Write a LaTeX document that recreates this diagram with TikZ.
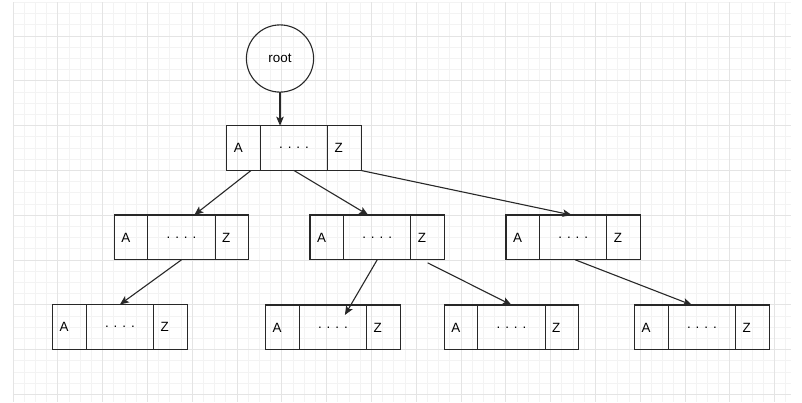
\documentclass[tikz,border=0pt]{standalone}
\usepackage{fontspec}
\setmainfont{Liberation Sans}
\usetikzlibrary{arrows.meta}
\definecolor{gminor}{RGB}{243,243,243}
\definecolor{gmajor}{RGB}{228,228,228}
\definecolor{edgec}{RGB}{40,40,40}
\tikzset{
  gridminor/.style={gminor, line width=0.8pt},
  gridmajor/.style={gmajor, line width=0.9pt},
  cellside/.style={draw=edgec, line width=1.1pt, minimum height=44.8pt, inner ysep=0pt,
     inner xsep=7pt, text width=19.6pt, align=left, anchor=north west, outer sep=0pt,
     font=\fontsize{13.4}{16}\selectfont},
  cellmid/.style={draw=edgec, line width=1.1pt, minimum height=44.8pt, minimum width=67.2pt,
     inner sep=0pt, anchor=north west, outer sep=0pt, font=\fontsize{13.4}{16}\selectfont},
  rootnode/.style={circle, draw=edgec, line width=1.1pt, minimum size=67.2pt, inner sep=0pt,
     outer sep=0pt, font=\fontsize{13.4}{16}\selectfont},
  arr/.style={draw=edgec, line width=1.1pt, -{Stealth[length=9pt,width=7.5pt,inset=2pt]}}
}
\newcommand\tribox[3]{%
  \node[cellside] (#1-a) at (#2,#3) {A};
  \node[cellmid] (#1-m) at (#1-a.north east) {. . . .};
  \node[cellside] (#1-z) at (#1-m.north east) {Z};
}
\begin{document}
\begin{tikzpicture}[x=1pt,y=-1pt]
\useasboundingbox (0,0) rectangle (802,402);
\fill[white] (0,0) rectangle (802,402);
% grid
\foreach \i in {0,...,69} {
  \pgfmathsetmacro\xx{13+11.2*\i}
  \draw[gridminor] (\xx,2.4) -- (\xx,402);
}
\foreach \k in {0,...,35} {
  \pgfmathsetmacro\yy{2.4+11.2*\k}
  \draw[gridminor] (13,\yy) -- (791,\yy);
}
\foreach \j in {0,...,17} {
  \pgfmathsetmacro\xx{13+44.8*\j}
  \draw[gridmajor] (\xx,2.4) -- (\xx,402);
}
\foreach \j in {0,...,8} {
  \pgfmathsetmacro\yy{36+44.8*\j}
  \draw[gridmajor] (13,\yy) -- (791,\yy);
}
% nodes
\node[rootnode] (root) at (280,58.5) {root};
\tribox{t}{226.8}{125.7}
\tribox{l2a}{114.3}{215}
\tribox{l2b}{310}{215}
\tribox{l2c}{506}{215}
\tribox{l3a}{52.7}{304.5}
\tribox{l3b}{265.7}{305}
\tribox{l3c}{444.3}{305}
\tribox{l3d}{634.7}{305}
% edges
\draw[arr] (root.south) -- (root.south |- t-m.north);
\draw[arr] ([xshift=7.4pt]t-a.south) -- ([xshift=12.8pt]l2a-m.north);
\draw[arr] (t-m.south) -- ([xshift=-9pt]l2b-m.north);
\draw[arr] (t-z.south east) -- ([xshift=-1.5pt]l2c-m.north);
\draw[arr] (l2a-m.south) -- (l3a-m.north);
\draw[arr] (l2b-m.south) -- ([xshift=12pt,yshift=-10pt]l3b-m.north);
\draw[arr] ([yshift=-3pt]l2b-z.south) -- (l3c-m.north);
\draw[arr] ([xshift=2pt]l2c-m.south) -- ([xshift=-10pt]l3d-m.north);
\end{tikzpicture}
\end{document}
